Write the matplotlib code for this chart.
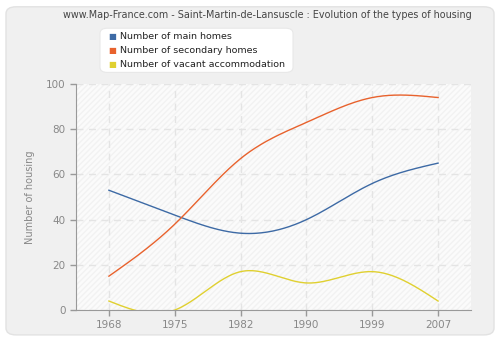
import numpy as np
import matplotlib
matplotlib.use("Agg")
import matplotlib.pyplot as plt
from matplotlib.patches import FancyBboxPatch, Rectangle

# data
years = ["1968", "1975", "1982", "1990", "1999", "2007"]
main_homes = [53, 42, 34, 40, 56, 65]
secondary_homes = [15, 38, 67, 83, 94, 94]
vacant = [4, 0, 17, 12, 17, 4]

colors = ["#3d6aa5", "#e8622d", "#e0d030"]
labels = ["Number of main homes", "Number of secondary homes",
          "Number of vacant accommodation"]


def natural_spline(y, n=300):
    # natural cubic spline through equally spaced points
    y = np.asarray(y, dtype=float)
    k = len(y)
    A = np.zeros((k, k))
    b = np.zeros(k)
    A[0, 0] = A[-1, -1] = 1
    for i in range(1, k - 1):
        A[i, i - 1], A[i, i], A[i, i + 1] = 1, 4, 1
        b[i] = 6 * (y[i + 1] - 2 * y[i] + y[i - 1])
    m = np.linalg.solve(A, b)
    xs = np.linspace(0, k - 1, n)
    idx = np.clip(np.floor(xs).astype(int), 0, k - 2)
    t = xs - idx
    ys = ((1 - t) * y[idx] + t * y[idx + 1]
          + ((1 - t) ** 3 - (1 - t)) * m[idx] / 6
          + (t ** 3 - t) * m[idx + 1] / 6)
    return xs, ys


fig = plt.figure(figsize=(5, 3.4), dpi=100)
fig.patch.set_facecolor("white")

# outer rounded panel
panel = FancyBboxPatch((0.012, 0.015), 0.976, 0.965,
                       boxstyle="round,pad=0,rounding_size=0.02",
                       transform=fig.transFigure, facecolor="#f0f0f0",
                       edgecolor="#e2e2e2", linewidth=1, zorder=-10)
fig.patches.append(panel)

ax = fig.add_axes([0.152, 0.088, 0.79, 0.665])
ax.set_facecolor("#fbfbfb")
ax.add_patch(Rectangle((0, 0), 1, 1, transform=ax.transAxes, facecolor="none",
                       edgecolor="#f2f2f2", hatch="//////", linewidth=0, zorder=0))

x = np.arange(len(years))
for vals, c in zip([main_homes, secondary_homes, vacant], colors):
    xs, ys = natural_spline(vals)
    ax.plot(xs, ys, color=c, linewidth=1, zorder=3)

ax.set_xlim(-0.5, len(years) - 0.5)
ax.set_ylim(0, 100)
ax.set_xticks(x)
ax.set_xticklabels(years)
ax.set_yticks(range(0, 101, 20))
ax.grid(True, color="#e4e4e4", linestyle=(0, (5, 4)), linewidth=1)
ax.set_axisbelow(True)

for s in ["top", "right"]:
    ax.spines[s].set_visible(False)
for s in ["left", "bottom"]:
    ax.spines[s].set_color("#999999")
ax.tick_params(colors="#999999", labelcolor="#888888", labelsize=7.5,
               length=4, width=1)
ax.set_ylabel("Number of housing", color="#888888", fontsize=7, labelpad=8)

fig.text(0.534, 0.955, "www.Map-France.com - Saint-Martin-de-Lansuscle : Evolution of the types of housing",
         ha="center", va="center", fontsize=6.9, color="#444444")

# legend box
leg = FancyBboxPatch((0.2, 0.787), 0.386, 0.13,
                     boxstyle="round,pad=0,rounding_size=0.015",
                     transform=fig.transFigure, facecolor="white",
                     edgecolor="#e8e8e8", linewidth=0.8)
fig.patches.append(leg)
for i, (lab, c) in enumerate(zip(labels, colors)):
    yy = 0.893 - i * 0.041
    fig.text(0.216, yy, "\u25a0", color=c, fontsize=6, ha="left", va="center")
    fig.text(0.24, yy, lab, color="#222222", fontsize=6.8, ha="left", va="center")

fig.savefig("out.png", dpi=100, facecolor=fig.get_facecolor())
